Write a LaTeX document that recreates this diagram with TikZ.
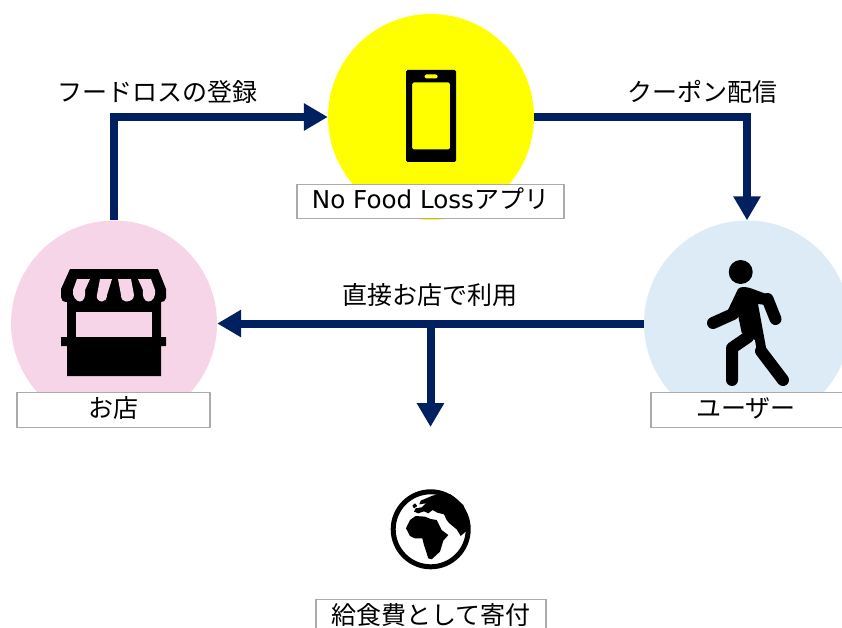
\documentclass[tikz,border=0pt]{standalone}
\usepackage{fontspec}
\setmainfont{DejaVu Sans}
\newfontfamily\jpfont{Noto Sans CJK JP}
\usetikzlibrary{arrows.meta}
\definecolor{navyflow}{HTML}{002060}
\definecolor{appyellow}{HTML}{FFFF00}
\definecolor{shoppink}{HTML}{F7D5E9}
\definecolor{userblue}{HTML}{DCEBF6}
\definecolor{boxgray}{HTML}{ABABAB}
\tikzset{
  disc/.style={circle,inner sep=0pt,minimum size=206pt},
  namebox/.style={draw=boxgray,fill=white,line width=1.2pt,inner sep=0pt,minimum height=34.5pt,text height=21.5pt,text depth=6.5pt,font=\fontsize{25}{28}\selectfont\jpfont},
  flowlabel/.style={inner sep=0pt,font=\fontsize{25}{28}\selectfont\jpfont},
  flow/.style={draw=navyflow,line width=8pt,-{Triangle[length=24pt,width=26pt]}},
  limb/.style={line width=12pt,line cap=round,line join=round},
}
\begin{document}
\begin{tikzpicture}[x=1pt,y=-1pt]
\useasboundingbox (0,0) rectangle (842,628);
\clip (0,0) rectangle (842,628);
% the three circles
\node[disc,fill=appyellow] (app) at (431,117) {};
\node[disc,fill=shoppink] (shop) at (114,323.5) {};
\node[disc,fill=userblue] (user) at (747,323.5) {};
% the arrows
\draw[flow] (shop.north) |- (app.west);
\draw[flow] (app.east) -| (user.north);
\draw[flow] (user.west) -- (shop.east);
\coordinate (fork) at (430.5,323.5);
\coordinate (forkend) at (430.5,427);
\draw[flow] (fork) -- (forkend);
% the labels on the arrows
\node[flowlabel] (lregister) at (157,92) {フードロスの登録};
\node[flowlabel] (lcoupon) at (702,92) {クーポン配信};
\node[flowlabel] (ldirect) at (430,295) {直接お店で利用};
% the name boxes
\node[namebox,minimum width=267pt] (appbox) at (430.5,201.5) {{\fontsize{24.6}{28}\selectfont\rmfamily No Food Loss}アプリ};
\node[namebox,minimum width=193pt] (shopbox) at (113.5,410) {お店};
\node[namebox,minimum width=200pt] (userbox) at (751,410) {\hspace*{-10pt}ユーザー};
\node[namebox,minimum width=230pt] (donatebox) at (431,616.5) {給食費として寄付};
% the phone
\fill[rounded corners=1.5pt,even odd rule] (406,70) rectangle (456,162) (412,82.5) rectangle (450,149.5);
\fill[appyellow,rounded corners=1.5pt] (424.7,74.5) rectangle (437.5,78.5);
% the shop
\fill (70,269) -- (158,269) -- (166,289) -- (166,298) .. controls (166,301) and (163,302) .. (161,302) -- (161,337)
  -- (166,337) -- (166,346) -- (161,346) -- (161,376) -- (67,376) -- (67,346) -- (61,346) -- (61,337) -- (67,337)
  -- (67,302) .. controls (63,302) and (61,300) .. (61,297) -- (61,289) -- cycle;
\fill[shoppink] (76,312) rectangle (152,337);
\fill[shoppink] (90,279) -- (77,279) -- (73,290) .. controls (72,296) and (76,301.5) .. (80,301.5) .. controls (84,301.5) and (86,296) .. (85,290) -- cycle;
\fill[shoppink] (112,279) -- (100,279) -- (97,295) .. controls (96,299) and (99,301.5) .. (102,301.5) .. controls (105,301.5) and (107,299) .. (107,295) -- cycle;
\fill[shoppink] (118,279) -- (131,279) -- (134,295) .. controls (134,299) and (131,301.5) .. (126,301.5) .. controls (123,301.5) and (121,299) .. (121,295) -- cycle;
\fill[shoppink] (138,279) -- (151,279) -- (155,290) .. controls (156,296) and (153,301.5) .. (148.5,301.5) .. controls (144,301.5) and (142,296) .. (143,290) -- cycle;
% the walking person
\fill (740.7,272) circle (12pt);
\fill (738,289) .. controls (741,286) and (746,287) .. (750,288) -- (772,296) -- (766,305) -- (758,304) -- (767,353) -- (757,353) -- (755,340) -- (741.7,333) -- (738,315) -- (727,312) -- cycle;
\draw[limb] (767.5,299) -- (775.5,319);
\draw[limb] (733,314) -- (713,323);
\draw[limb] (748,337) -- (732,348) -- (732,380);
\draw[limb] (761,351) -- (783,380);
% the globe
\draw[line width=5pt] (430.7,529.3) circle (37.5pt);
\begin{scope}[shift={(300,470)},x=0.3333pt,y=-0.3333pt]
\fill (362,92) -- (400,76) -- (450,72) -- (490,105) -- (510,160) -- (505,178) -- (482,198) -- (470,178) -- (448,160) -- (440,150) -- (432,133) -- (412,128) -- (398,120) -- (385,130) -- (372,124) -- (355,130) -- (342,125) -- (347,115) -- (365,112) -- (378,100) -- (358,103) -- cycle;
\fill (337,107) -- (345,100) -- (352,108) -- (342,115) -- cycle;
\fill (318,175) -- (330,150) -- (347,138) -- (375,140) -- (392,147) -- (410,150) -- (425,180) -- (445,195) -- (430,212) -- (420,245) -- (395,268) -- (385,265) -- (372,225) -- (367,205) -- (345,205) -- (330,198) -- cycle;
\end{scope}
\end{tikzpicture}
\end{document}
